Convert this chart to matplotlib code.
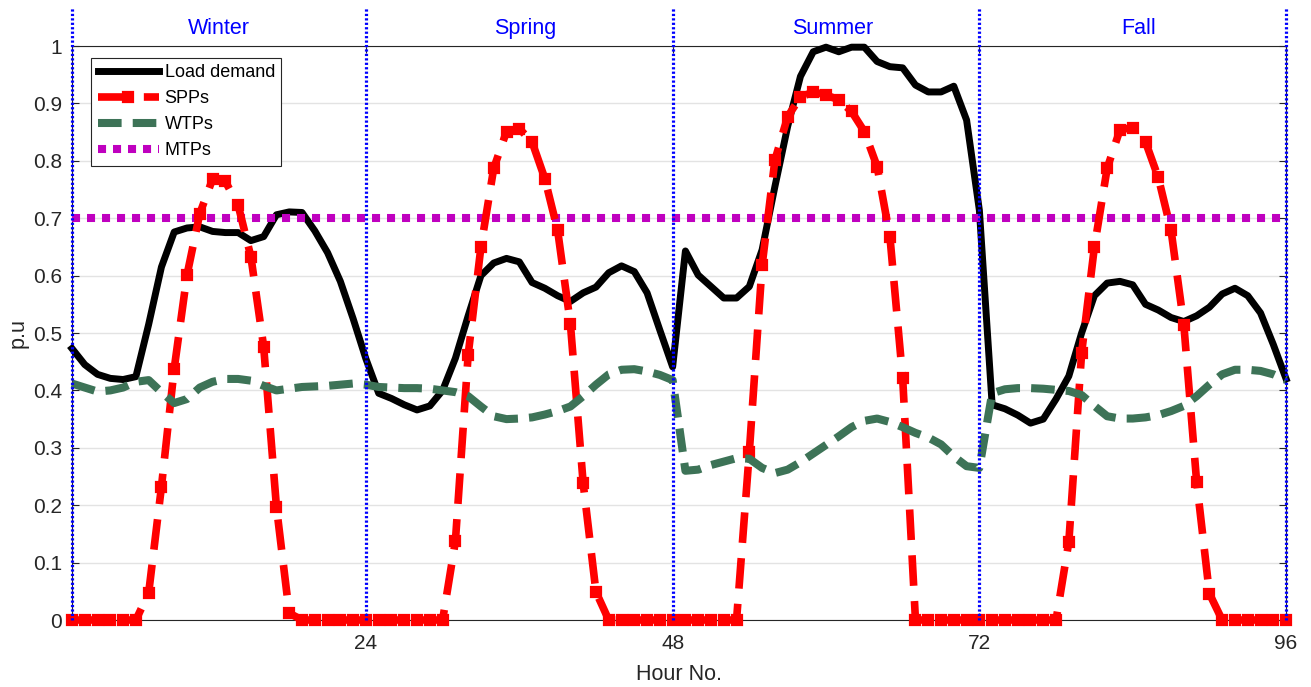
import numpy as np
import matplotlib
matplotlib.use("Agg")
import matplotlib.pyplot as plt

#Chart values
hours = np.arange(1, 97)

load_demand = [
    #Winter
    0.473, 0.445, 0.428, 0.421, 0.419, 0.424, 0.515, 0.615, 0.676, 0.683, 0.685, 0.677,
    0.675, 0.675, 0.661, 0.668, 0.706, 0.711, 0.710, 0.678, 0.640, 0.590, 0.525, 0.455,
    #Spring
    0.395, 0.386, 0.375, 0.366, 0.373, 0.400, 0.456, 0.530, 0.600, 0.622, 0.630, 0.624,
    0.588, 0.578, 0.565, 0.555, 0.570, 0.580, 0.605, 0.617, 0.607, 0.570, 0.505, 0.441,
    #Summer
    0.643, 0.601, 0.581, 0.561, 0.561, 0.581, 0.645, 0.755, 0.860, 0.947, 0.990, 0.998,
    0.990, 0.998, 0.998, 0.973, 0.964, 0.962, 0.932, 0.920, 0.920, 0.930, 0.871, 0.714,
    #Fall
    0.375, 0.368, 0.357, 0.343, 0.350, 0.385, 0.425, 0.500, 0.565, 0.587, 0.590, 0.584,
    0.550, 0.540, 0.527, 0.520, 0.530, 0.545, 0.568, 0.578, 0.565, 0.535, 0.480, 0.420,
]

spp = [
    #Winter
    0.0, 0.0, 0.0, 0.0, 0.0, 0.0, 0.047, 0.232, 0.438, 0.601, 0.708, 0.768,
    0.764, 0.723, 0.633, 0.476, 0.197, 0.012, 0.0, 0.0, 0.0, 0.0, 0.0, 0.0,
    #Spring
    0.0, 0.0, 0.0, 0.0, 0.0, 0.0, 0.137, 0.462, 0.650, 0.787, 0.851, 0.856,
    0.833, 0.769, 0.679, 0.516, 0.238, 0.049, 0.0, 0.0, 0.0, 0.0, 0.0, 0.0,
    #Summer
    0.0, 0.0, 0.0, 0.0, 0.0, 0.293, 0.618, 0.801, 0.877, 0.911, 0.920, 0.915,
    0.906, 0.886, 0.851, 0.790, 0.668, 0.421, 0.0, 0.0, 0.0, 0.0, 0.0, 0.0,
    #Fall
    0.0, 0.0, 0.0, 0.0, 0.0, 0.0, 0.136, 0.465, 0.650, 0.787, 0.854, 0.858,
    0.833, 0.771, 0.679, 0.514, 0.241, 0.046, 0.0, 0.0, 0.0, 0.0, 0.0, 0.0,
]

wtp = [
    #Winter
    0.412, 0.405, 0.398, 0.400, 0.405, 0.415, 0.418, 0.397, 0.378, 0.385, 0.405, 0.415,
    0.420, 0.420, 0.417, 0.408, 0.400, 0.403, 0.406, 0.407, 0.408, 0.410, 0.412, 0.410,
    #Spring
    0.406, 0.405, 0.404, 0.404, 0.403, 0.400, 0.397, 0.390, 0.372, 0.355, 0.350, 0.351,
    0.353, 0.358, 0.364, 0.372, 0.390, 0.410, 0.428, 0.436, 0.437, 0.433, 0.427, 0.418,
    #Summer
    0.260, 0.262, 0.270, 0.276, 0.282, 0.281, 0.265, 0.256, 0.262, 0.275, 0.290, 0.305,
    0.320, 0.336, 0.347, 0.351, 0.345, 0.336, 0.326, 0.318, 0.306, 0.285, 0.268, 0.265,
    #Fall
    0.395, 0.402, 0.404, 0.404, 0.403, 0.401, 0.399, 0.392, 0.373, 0.355, 0.351, 0.351,
    0.353, 0.357, 0.364, 0.373, 0.390, 0.410, 0.428, 0.436, 0.436, 0.434, 0.428, 0.418,
]

mtp_level = 0.7
season_bounds = [1, 24, 48, 72, 96]
season_names = ["Winter", "Spring", "Summer", "Fall"]
season_label_x = [12.5, 36.5, 60.5, 84.5]
x_ticks = [24, 48, 72, 96]
y_ticks = [0, 0.1, 0.2, 0.3, 0.4, 0.5, 0.6, 0.7, 0.8, 0.9, 1]
y_tick_labels = ["0", "0.1", "0.2", "0.3", "0.4", "0.5", "0.6", "0.7", "0.8", "0.9", "1"]

plt.rcParams["font.family"] = ["Liberation Sans", "DejaVu Sans"]
plt.rcParams["lines.scale_dashes"] = False


def main():
    fig = plt.figure(figsize=(13.11, 6.87), dpi=100)
    ax = fig.add_axes([0.0549, 0.0975, 0.9261, 0.8355])

    #Light horizontal grid only
    ax.set_axisbelow(True)
    ax.yaxis.grid(True, color="#e3e3e3", linewidth=1.0)

    ax.plot(hours, load_demand, color="black", linewidth=5.0,
            label="Load demand", zorder=3, clip_on=False)
    ax.plot(hours, [mtp_level] * len(hours), color="#bf00bf", linewidth=5.8,
            linestyle=(0, (5.8, 5.0)), dash_capstyle="butt",
            label="MTPs", zorder=4, clip_on=False)
    ax.plot(hours, spp, color="red", linewidth=5.5, linestyle=(0, (22, 11)),
            marker="s", markersize=7.5, markeredgewidth=1.6,
            label="SPPs", zorder=5, clip_on=False)
    ax.plot(hours, wtp, color="#3d7357", linewidth=5.8, linestyle=(0, (17, 8)),
            label="WTPs", zorder=6, clip_on=False)

    #Season separators, drawn past the top of the box
    for xb in season_bounds:
        ax.plot([xb, xb], [0, 1.066], color="blue", linewidth=2.3,
                linestyle=(0, (1.6, 1.6)), zorder=7, clip_on=False)
    for xs, name in zip(season_label_x, season_names):
        ax.text(xs, 1.031, name, color="blue", fontsize=15.5,
                ha="center", va="center")

    ax.set_xlim(1, 96)
    ax.set_ylim(0, 1)
    ax.set_xticks(x_ticks)
    ax.set_yticks(y_ticks)
    ax.set_yticklabels(y_tick_labels)
    ax.tick_params(direction="in", length=5, width=0.8, colors="#262626",
                   labelsize=15, top=True, right=True, pad=7)
    ax.tick_params(axis="x", pad=10)
    for sp in ax.spines.values():
        sp.set_color("#262626")
        sp.set_linewidth(0.8)

    ax.set_xlabel("Hour No.", fontsize=15.5, color="#262626", labelpad=8)
    ax.set_ylabel("p.u", fontsize=15.5, color="#262626", labelpad=3)

    handles, labels = ax.get_legend_handles_labels()
    order = [0, 2, 3, 1]
    leg = ax.legend([handles[i] for i in order], [labels[i] for i in order],
                    loc="upper left", bbox_to_anchor=(0.016, 0.979),
                    borderaxespad=0, fontsize=13, handlelength=3.4,
                    handletextpad=0.3, labelspacing=0.5, borderpad=0.35,
                    fancybox=False, framealpha=1, edgecolor="#262626",
                    numpoints=1)
    leg.get_frame().set_linewidth(0.8)
    leg.set_zorder(10)

    fig.savefig("out.png", dpi=100)


if __name__ == "__main__":
    main()
